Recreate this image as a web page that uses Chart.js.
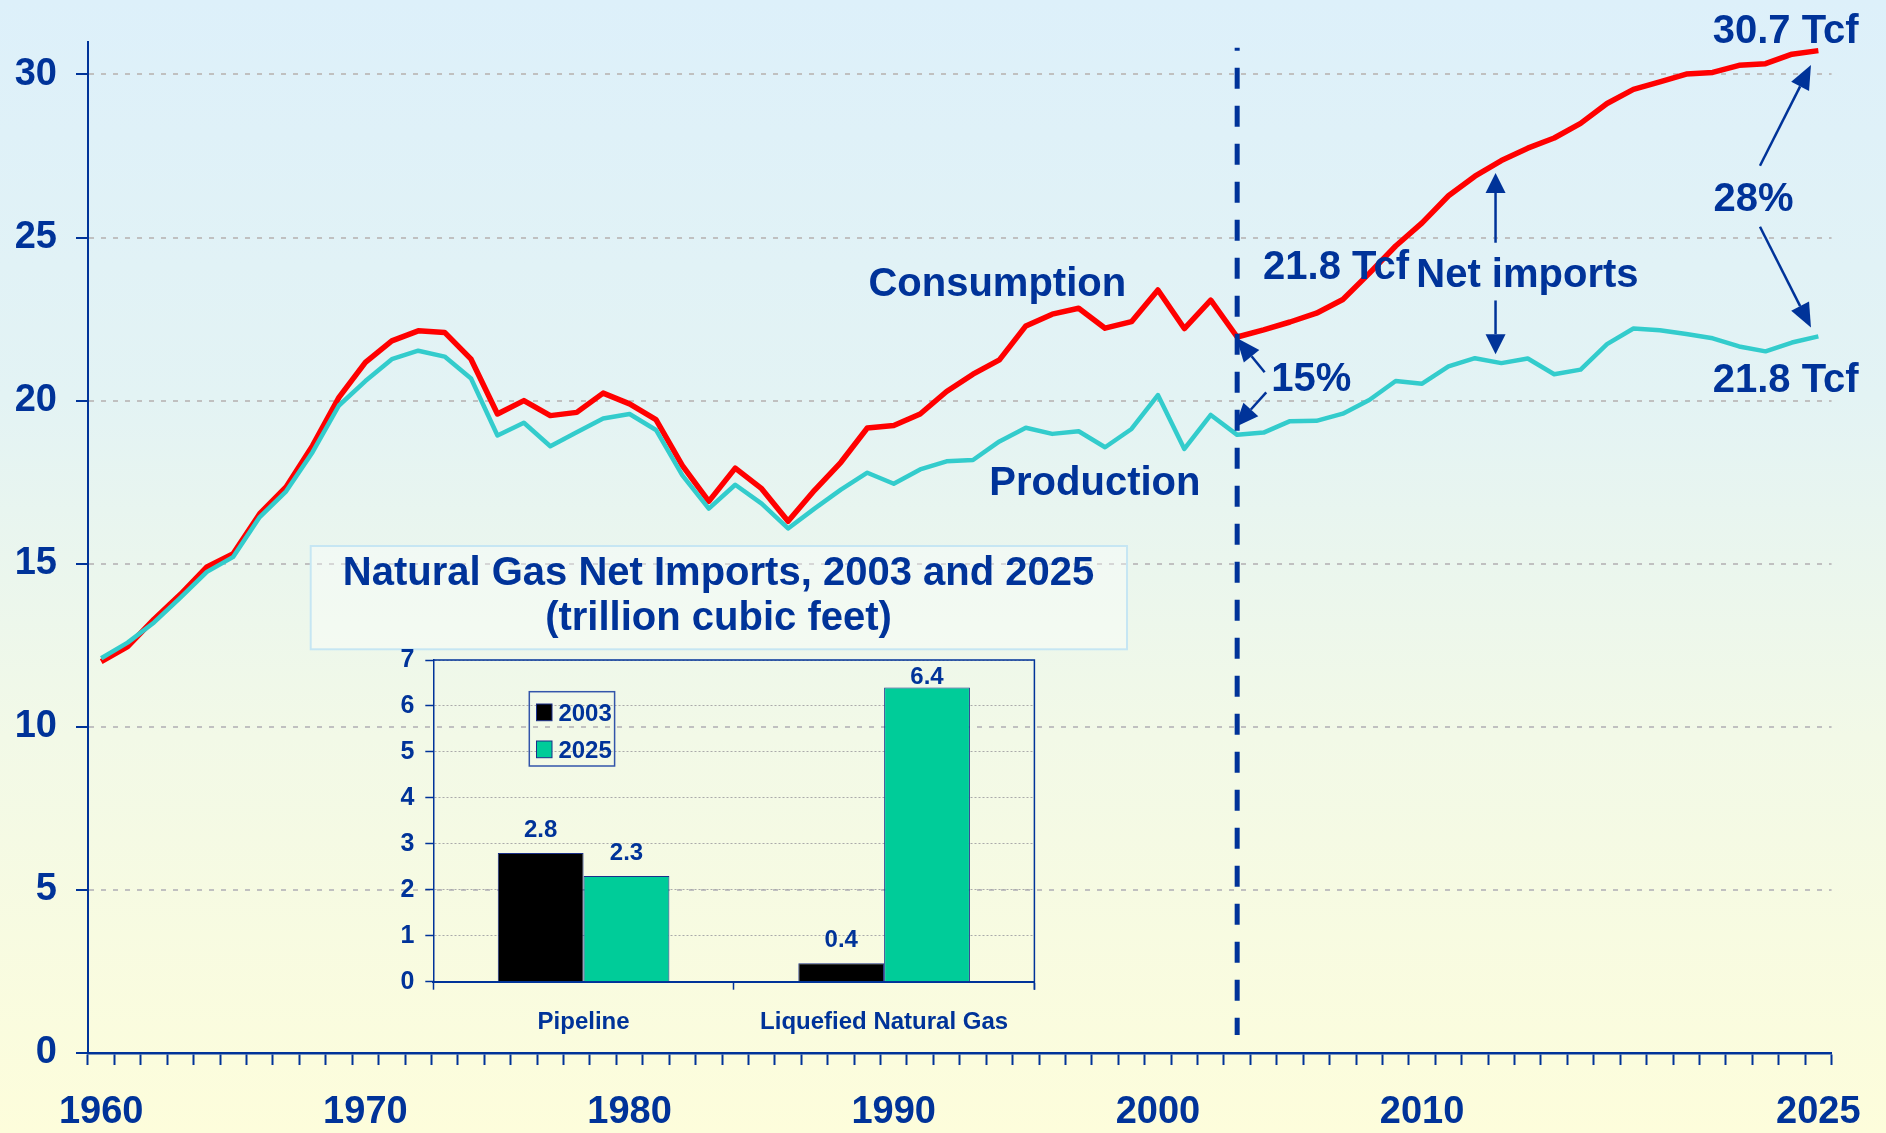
<!DOCTYPE html>
<html>
<head>
<meta charset="utf-8">
<script src="https://cdn.jsdelivr.net/npm/chart.js@4.4.0/dist/chart.umd.min.js"></script>
<style>
  html, body { margin: 0; padding: 0; }
  body {
    width: 1886px; height: 1133px; overflow: hidden; position: relative;
    background: linear-gradient(to bottom, #ddf0fa 0%, #e3f3f4 35%, #f2f9e7 65%, #fdfddb 100%);
  }
  #principal { position: absolute; left: 0; top: 0; width: 1886px; height: 1133px; }
  #inset { position: absolute; left: 300px; top: 540px; width: 840px; height: 520px; }
</style>
</head>
<body>
<div id="principal"><canvas id="graficoGas"></canvas></div>
<div id="inset"><canvas id="graficoImport"></canvas></div>
<script>
const anos = [1960, 1961, 1962, 1963, 1964, 1965, 1966, 1967, 1968, 1969,
  1970, 1971, 1972, 1973, 1974, 1975, 1976, 1977, 1978, 1979,
  1980, 1981, 1982, 1983, 1984, 1985, 1986, 1987, 1988, 1989,
  1990, 1991, 1992, 1993, 1994, 1995, 1996, 1997, 1998, 1999,
  2000, 2001, 2002, 2003, 2004, 2005, 2006, 2007, 2008, 2009,
  2010, 2011, 2012, 2013, 2014, 2015, 2016, 2017, 2018, 2019,
  2020, 2021, 2022, 2023, 2024, 2025];

const consumo = [12.0, 12.46, 13.3, 14.06, 14.9, 15.31, 16.53, 17.35, 18.62, 20.1,
  21.17, 21.83, 22.14, 22.09, 21.27, 19.59, 20.0, 19.54, 19.64, 20.23,
  19.9, 19.42, 18.01, 16.91, 17.93, 17.3, 16.3, 17.25, 18.11, 19.16,
  19.24, 19.59, 20.28, 20.81, 21.25, 22.29, 22.65, 22.83, 22.22, 22.42,
  23.39, 22.21, 23.08, 21.95, 22.17, 22.41, 22.68, 23.1, 23.9, 24.74,
  25.45, 26.28, 26.88, 27.36, 27.74, 28.05, 28.5, 29.11, 29.54, 29.77,
  30.01, 30.06, 30.28, 30.33, 30.62, 30.73];

const producao = [12.1, 12.58, 13.2, 13.96, 14.75, 15.21, 16.43, 17.22, 18.42, 19.85,
  20.6, 21.27, 21.53, 21.35, 20.68, 18.93, 19.32, 18.6, 19.03, 19.45,
  19.59, 19.1, 17.71, 16.69, 17.42, 16.84, 16.08, 16.69, 17.27, 17.79,
  17.45, 17.89, 18.14, 18.18, 18.75, 19.17, 18.98, 19.06, 18.57, 19.13,
  20.17, 18.52, 19.56, 18.95, 19.02, 19.37, 19.38, 19.6, 20.02, 20.6,
  20.52, 21.05, 21.3, 21.15, 21.29, 20.81, 20.95, 21.73, 22.21, 22.16,
  22.04, 21.91, 21.66, 21.51, 21.78, 21.97];

const rotulosAnos = [1960, 1970, 1980, 1990, 2000, 2010, 2025];
const ticksY = [0, 5, 10, 15, 20, 25, 30];

const tiposImport = ["Pipeline", "Liquefied Natural Gas"];
const import2003 = [2.8, 0.4];
const import2025 = [2.3, 6.4];
const tituloImport = ["Natural Gas Net Imports, 2003 and 2025", "(trillion cubic feet)"];

const AZUL = "#003399";
const FONTE = "'Liberation Sans', Arial, Helvetica, sans-serif";
Chart.defaults.font.family = FONTE;
Chart.defaults.font.weight = "bold";
Chart.defaults.color = AZUL;

// textos e setas do grafico principal (ano, valor)
const notas = [
  { texto: "Consumption", ano: 1989.04, valor: 23.22 },
  { texto: "Production", ano: 1993.62, valor: 17.11 },
  { texto: "21.8 Tcf", ano: 2003.98, valor: 23.72 },
  { texto: "Net imports", ano: 2009.78, valor: 23.49 },
  { texto: "30.7 Tcf", ano: 2021.0, valor: 30.97 },
  { texto: "28%", ano: 2021.03, valor: 25.81 },
  { texto: "21.8 Tcf", ano: 2021.0, valor: 20.25 },
  { texto: "15%", ano: 2004.29, valor: 20.31 },
];

const setas = [
  { de: [2012.78, 24.84], para: [2012.78, 26.98], cab: 20 },
  { de: [2012.78, 23.07], para: [2012.78, 21.42], cab: 20 },
  { de: [2022.79, 27.2], para: [2024.72, 30.29], cab: 24 },
  { de: [2022.79, 25.33], para: [2024.72, 22.24], cab: 24 },
  { de: [2004.04, 20.87], para: [2002.97, 21.93], cab: 24 },
  { de: [2004.1, 20.25], para: [2002.91, 19.18], cab: 24 },
];

function desenharSeta(ctx, x1, y1, x2, y2, cab, larg) {
  const ang = Math.atan2(y2 - y1, x2 - x1);
  const bx = x2 - cab * Math.cos(ang);
  const by = y2 - cab * Math.sin(ang);
  ctx.beginPath();
  ctx.moveTo(x1, y1);
  ctx.lineTo(bx, by);
  ctx.stroke();
  ctx.beginPath();
  ctx.moveTo(x2, y2);
  ctx.lineTo(bx + larg / 2 * Math.sin(ang), by - larg / 2 * Math.cos(ang));
  ctx.lineTo(bx - larg / 2 * Math.sin(ang), by + larg / 2 * Math.cos(ang));
  ctx.closePath();
  ctx.fill();
}

const pluginNotas = {
  id: "notas",
  afterDatasetsDraw(chart) {
    const { ctx, scales: { x, y }, chartArea } = chart;
    const px = ano => x.getPixelForValue(ano - anos[0]);
    const py = v => y.getPixelForValue(v);
    ctx.save();

    // linha tracejada em 2003
    ctx.strokeStyle = AZUL;
    ctx.lineWidth = 5;
    ctx.setLineDash([21, 17]);
    ctx.lineDashOffset = 18;
    ctx.beginPath();
    ctx.moveTo(px(2003), chartArea.top + 6);
    ctx.lineTo(px(2003), chartArea.bottom - 18);
    ctx.stroke();
    ctx.setLineDash([]);

    ctx.fillStyle = AZUL;
    ctx.lineWidth = 2.5;
    setas.forEach(s => {
      desenharSeta(ctx, px(s.de[0]), py(s.de[1]), px(s.para[0]), py(s.para[1]), s.cab, 20);
    });

    ctx.font = "bold 40px " + FONTE;
    ctx.textAlign = "left";
    ctx.textBaseline = "alphabetic";
    notas.forEach(n => ctx.fillText(n.texto, px(n.ano), py(n.valor)));
    ctx.restore();
  }
};

new Chart(document.getElementById("graficoGas"), {
  type: "line",
  data: {
    labels: anos,
    datasets: [
      { label: "Production", data: producao, borderColor: "#33cccc", borderWidth: 4.5,
        pointRadius: 0, tension: 0, borderJoinStyle: "round" },
      { label: "Consumption", data: consumo, borderColor: "#ff0000", borderWidth: 5.5,
        pointRadius: 0, tension: 0, borderJoinStyle: "round" },
    ],
  },
  options: {
    responsive: true,
    maintainAspectRatio: false,
    animation: false,
    layout: { padding: { top: 38, right: 49, bottom: 0, left: 0 } },
    plugins: { legend: { display: false }, tooltip: { enabled: false } },
    scales: {
      x: {
        offset: true,
        grid: { offset: true, drawOnChartArea: false, tickLength: 12, tickColor: AZUL, tickWidth: 2 },
        border: { color: AZUL, width: 2.5 },
        ticks: {
          autoSkip: false, maxRotation: 0, minRotation: 0, padding: 25, color: AZUL,
          font: { size: 38, weight: "bold" },
          callback: (v, i) => rotulosAnos.includes(anos[i]) ? String(anos[i]) : "",
        },
        afterFit: s => { s.height = 80; },
      },
      y: {
        min: 0,
        max: 31,
        afterBuildTicks: s => { s.ticks = ticksY.map(v => ({ value: v })); },
        ticks: { padding: 19, color: AZUL, font: { size: 38, weight: "bold" } },
        grid: { color: "#c0c0c0", lineWidth: 2, tickLength: 12, tickColor: AZUL, tickWidth: 2 },
        border: { color: AZUL, width: 2, dash: [5, 7] },
        afterFit: s => { s.width = 88; },
      },
    },
  },
  plugins: [pluginNotas],
});

// grafico pequeno de importacoes
const pluginInset = {
  id: "inset",
  beforeDraw(chart) {
    const { ctx } = chart;
    ctx.save();
    ctx.fillStyle = "rgba(255,255,255,0.35)";
    ctx.strokeStyle = "#c6e6f3";
    ctx.lineWidth = 2;
    ctx.fillRect(10.7, 6, 816.3, 103.3);
    ctx.strokeRect(10.7, 6, 816.3, 103.3);
    ctx.fillStyle = AZUL;
    ctx.font = "bold 40px " + FONTE;
    ctx.textAlign = "center";
    ctx.textBaseline = "alphabetic";
    tituloImport.forEach((linha, i) => ctx.fillText(linha, 418.5, 45 + i * 45));
    ctx.restore();
  },
  afterDatasetsDraw(chart) {
    const { ctx, chartArea } = chart;
    ctx.save();
    ctx.fillStyle = AZUL;
    ctx.font = "bold 24px " + FONTE;
    ctx.textAlign = "center";
    ctx.textBaseline = "alphabetic";
    chart.data.datasets.forEach((ds, i) => {
      chart.getDatasetMeta(i).data.forEach((bar, j) => {
        const yTexto = Math.max(bar.y - 16, chartArea.top + 24);
        ctx.fillText(String(ds.data[j]), bar.x, yTexto);
      });
    });
    // moldura do topo e da direita
    ctx.strokeStyle = AZUL;
    ctx.lineWidth = 1.5;
    ctx.beginPath();
    ctx.moveTo(chartArea.left, chartArea.top);
    ctx.lineTo(chartArea.right, chartArea.top);
    ctx.lineTo(chartArea.right, chartArea.bottom + 8);
    ctx.stroke();
    ctx.restore();
  },
  afterDraw(chart) {
    const { ctx } = chart;
    ctx.save();
    ctx.strokeStyle = "#3355aa";
    ctx.lineWidth = 1.5;
    ctx.strokeRect(229.3, 151.7, 85.3, 74.3);
    ctx.font = "bold 24px " + FONTE;
    ctx.textAlign = "left";
    ctx.textBaseline = "alphabetic";
    chart.data.datasets.forEach((ds, i) => {
      const y0 = 164 + i * 37;
      ctx.fillStyle = ds.backgroundColor;
      ctx.fillRect(236.5, y0, 15.5, 16.7);
      ctx.strokeStyle = ds.borderColor;
      ctx.lineWidth = 1;
      ctx.strokeRect(236.5, y0, 15.5, 16.7);
      ctx.fillStyle = AZUL;
      ctx.fillText(ds.label, 258.4, y0 + 16.7);
    });
    ctx.restore();
  }
};

new Chart(document.getElementById("graficoImport"), {
  type: "bar",
  data: {
    labels: tiposImport,
    datasets: [
      { label: "2003", data: import2003, backgroundColor: "#000000", borderColor: "#1a2f8a", borderWidth: 1 },
      { label: "2025", data: import2025, backgroundColor: "#00cc99", borderColor: "#1a2f8a", borderWidth: 1 },
    ],
  },
  options: {
    responsive: true,
    maintainAspectRatio: false,
    animation: false,
    layout: { padding: { top: 120, right: 105.6, bottom: 0, left: 0 } },
    datasets: { bar: { barPercentage: 1, categoryPercentage: 0.571 } },
    plugins: { legend: { display: false }, tooltip: { enabled: false } },
    scales: {
      x: {
        grid: { offset: true, drawOnChartArea: false, tickLength: 8, tickColor: AZUL, tickWidth: 1.5 },
        border: { color: AZUL, width: 2 },
        ticks: { color: AZUL, font: { size: 24, weight: "bold" }, padding: 18, maxRotation: 0 },
        afterFit: s => { s.height = 78.3; },
      },
      y: {
        min: 0,
        max: 7,
        ticks: { stepSize: 1, color: AZUL, font: { size: 25, weight: "bold" }, padding: 11 },
        grid: { color: "#aaaaaa", lineWidth: 1, tickLength: 8, tickColor: AZUL, tickWidth: 1.5 },
        border: { color: AZUL, width: 1.5, dash: [2, 2] },
        afterFit: s => { s.width = 133.3; },
      },
    },
  },
  plugins: [pluginInset],
});
</script>
</body>
</html>
